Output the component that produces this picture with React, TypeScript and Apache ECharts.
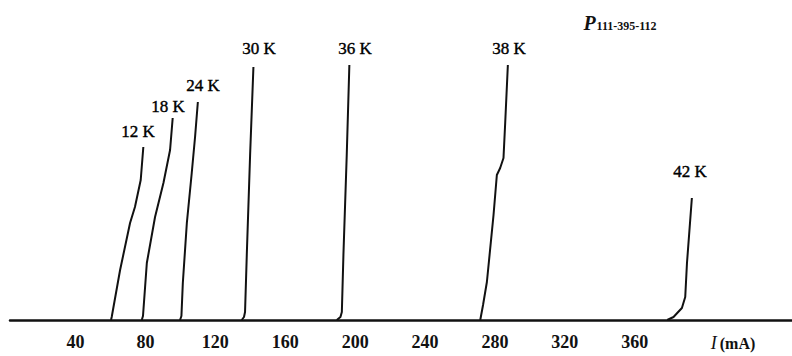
import React, { useEffect, useRef } from "react";
import * as echarts from "echarts";

// current I (mA) vs. signal (arbitrary units, 0 = baseline)
const curve12K: [number, number][] = [[60.3, 0], [60.7, 3], [65.5, 50], [71.2, 97], [74.0, 113], [77.3, 140], [78.8, 173]];
const curve18K: [number, number][] = [[77.9, 0], [78.6, 4], [80.8, 57], [85.5, 103], [90.3, 137], [94.1, 170], [95.6, 202]];
const curve24K: [number, number][] = [[99.8, 0], [100.6, 4], [101.4, 37], [103.7, 97], [106.5, 147], [108.4, 183], [110.0, 218]];
const curve30K: [number, number][] = [[135.1, 0], [136.4, 3], [137.0, 8], [138.0, 65], [139.9, 165], [141.8, 253]];
const curve36K: [number, number][] = [[189.5, 0], [191.6, 3], [192.4, 8], [193.3, 65], [195.2, 165], [196.7, 255]];
const curve38K: [number, number][] = [[271.6, 0], [273.2, 15], [275.4, 38], [279.2, 105], [281.1, 145], [283.0, 152], [284.9, 162], [285.9, 198], [287.4, 255]];
const curve42K: [number, number][] = [[378.6, 0], [382.2, 3], [387.0, 12], [388.9, 23], [389.9, 57], [392.7, 122]];

const curves = [curve12K, curve18K, curve24K, curve30K, curve36K, curve38K, curve42K];
const curveNames = ["12 K", "18 K", "24 K", "30 K", "36 K", "38 K", "42 K"];
const tickValues = [40, 80, 120, 160, 200, 240, 280, 320, 360];
const axisTitle = "I";
const axisUnit = "(mA)";
const sampleTitle = "P";
const sampleCode = "111-395-112";

// label anchor positions (pixels)
const labelPos: [number, number][] = [[138, 131], [168, 106], [203, 85], [259, 48], [355, 48], [509, 48], [690, 171]];

const FONT = "'Liberation Serif', 'DejaVu Serif', serif";

export default function App() {
  const ref = useRef<HTMLDivElement>(null);
  useEffect(() => {
    if (!ref.current) return;
    const chart = echarts.init(ref.current, null, { renderer: "svg" });
    chart.setOption({
      animation: false,
      backgroundColor: "#ffffff",
      grid: { left: 10, right: 0, top: 0, bottom: 36 },
      xAxis: {
        type: "value",
        min: 2.5,
        max: 450,
        splitLine: { show: false },
        axisTick: { show: false },
        axisLine: { show: true, lineStyle: { color: "#111", width: 2.5 } },
        axisLabel: {
          customValues: tickValues,
          margin: 13,
          color: "#111",
          fontSize: 18,
          fontWeight: "bold",
          fontFamily: FONT,
        },
      },
      yAxis: {
        type: "value",
        min: 0,
        max: 320,
        show: false,
        splitLine: { show: false },
      },
      series: curves.map((c, i) => ({
        type: "line",
        name: curveNames[i],
        data: c,
        showSymbol: false,
        smooth: false,
        lineStyle: { color: "#111", width: 2 },
      })),
      graphic: [
        ...curveNames.map((n, i) => ({
          type: "text",
          x: labelPos[i][0],
          y: labelPos[i][1],
          style: {
            text: n,
            fill: "#000",
            font: `17px ${FONT}`,
            textAlign: "center",
            textVerticalAlign: "middle",
            stroke: "#000",
            lineWidth: 0.4,
          },
        })),
        {
          type: "text",
          x: 733,
          y: 343,
          style: {
            text: `{i|${axisTitle}}{n|${axisUnit}}`,
            textAlign: "center",
            textVerticalAlign: "middle",
            rich: {
              i: { fontFamily: FONT, fontStyle: "italic", fontSize: 18, fill: "#111", padding: [0, 3, 0, 0] },
              n: { fontFamily: FONT, fontWeight: "bold", fontSize: 16, fill: "#111" },
            },
          },
        },
        {
          type: "text",
          x: 620,
          y: 23,
          style: {
            text: `{p|${sampleTitle}}{s|${sampleCode}}`,
            textAlign: "center",
            textVerticalAlign: "middle",
            rich: {
              p: { fontFamily: FONT, fontStyle: "italic", fontWeight: "bold", fontSize: 20, fill: "#111" },
              s: { fontFamily: FONT, fontWeight: "bold", fontSize: 12, fill: "#111", padding: [6, 0, 0, 1] },
            },
          },
        },
      ],
    });
    return () => chart.dispose();
  }, []);
  return (
    <div
      ref={ref}
      style={{ position: "fixed", left: 0, top: 0, width: 792, height: 356, background: "#fff" }}
    />
  );
}
